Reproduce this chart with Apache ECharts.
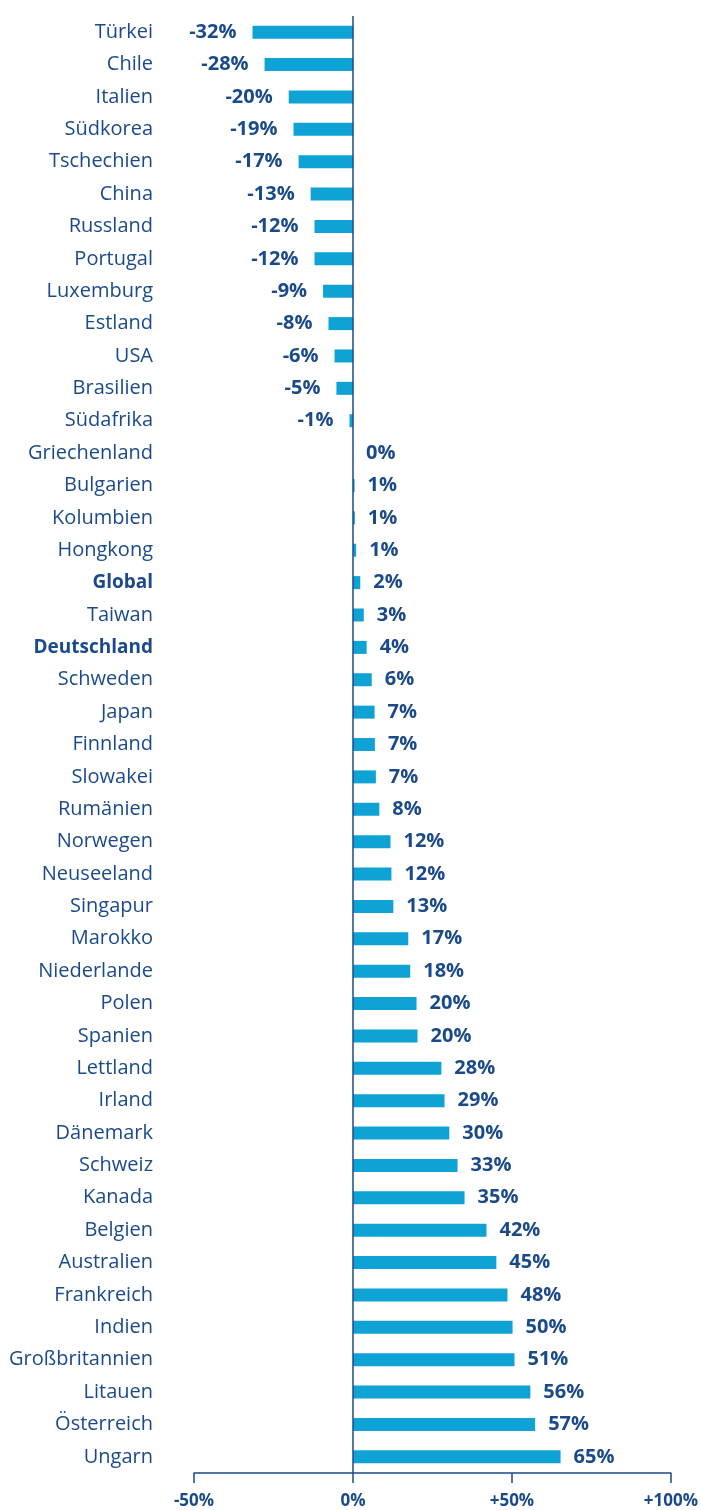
<!DOCTYPE html>
<html>
<head>
<meta charset="utf-8">
<script src="https://cdn.jsdelivr.net/npm/echarts@6/dist/echarts.min.js"></script>
<style>
  html, body { margin: 0; padding: 0; background: #fff; }
  #chart { width: 701px; height: 1510px; }
</style>
</head>
<body>
<div id="chart"></div>
<script>
// Länder (oben nach unten)
const countries = [
  'Türkei', 'Chile', 'Italien', 'Südkorea', 'Tschechien', 'China', 'Russland', 'Portugal',
  'Luxemburg', 'Estland', 'USA', 'Brasilien', 'Südafrika', 'Griechenland', 'Bulgarien',
  'Kolumbien', 'Hongkong', 'Global', 'Taiwan', 'Deutschland', 'Schweden', 'Japan', 'Finnland',
  'Slowakei', 'Rumänien', 'Norwegen', 'Neuseeland', 'Singapur', 'Marokko', 'Niederlande',
  'Polen', 'Spanien', 'Lettland', 'Irland', 'Dänemark', 'Schweiz', 'Kanada', 'Belgien',
  'Australien', 'Frankreich', 'Indien', 'Großbritannien', 'Litauen', 'Österreich', 'Ungarn'
];
// Veränderung in % (aus Balkenlänge geschätzt)
const values = [
  -31.6, -27.8, -20.2, -18.7, -17.1, -13.3, -12.1, -12.1,
  -9.4, -7.7, -5.8, -5.2, -1.1, 0, 0.5,
  0.6, 1.0, 2.3, 3.4, 4.3, 5.9, 6.8, 6.9,
  7.2, 8.3, 11.8, 12.1, 12.7, 17.4, 18.0,
  20.0, 20.3, 27.8, 28.8, 30.3, 32.9, 35.1, 42.0,
  45.1, 48.6, 50.2, 50.8, 55.8, 57.3, 65.3
];
// Beschriftungen an den Balken
const valueLabels = [
  '-32%', '-28%', '-20%', '-19%', '-17%', '-13%', '-12%', '-12%',
  '-9%', '-8%', '-6%', '-5%', '-1%', '0%', '1%',
  '1%', '1%', '2%', '3%', '4%', '6%', '7%', '7%',
  '7%', '8%', '12%', '12%', '13%', '17%', '18%',
  '20%', '20%', '28%', '29%', '30%', '33%', '35%', '42%',
  '45%', '48%', '50%', '51%', '56%', '57%', '65%'
];
const xTicks = { '-50': '-50%', '0': '0%', '50': '+50%', '100': '+100%' };
const boldCountries = ['Global', 'Deutschland'];

const navy = '#1b4a8a';
const barBlue = '#0ea3d4';
const font = '"Open Sans", Lato, sans-serif';

const chart = echarts.init(document.getElementById('chart'));

const option = {
  animation: false,
  textStyle: { fontFamily: font },
  grid: { left: 194, right: 30, top: 16, bottom: 32, containLabel: false },
  xAxis: {
    type: 'value',
    min: -50,
    max: 100,
    interval: 50,
    splitLine: { show: false },
    axisLine: { show: true, lineStyle: { color: navy, width: 1.5 } },
    axisTick: { show: true, length: 10, lineStyle: { color: navy, width: 1.5 } },
    axisLabel: {
      color: navy,
      fontSize: 17,
      fontWeight: 'bold',
      fontFamily: font,
      margin: 20,
      formatter: v => xTicks[String(v)] || ''
    }
  },
  yAxis: {
    type: 'category',
    inverse: true,
    data: countries,
    axisLine: { show: false },
    axisTick: { show: false },
    axisLabel: {
      margin: 41,
      color: navy,
      fontSize: 20,
      formatter: name => boldCountries.includes(name) ? '{b|' + name + '}' : '{n|' + name + '}',
      rich: {
        n: { color: navy, fontSize: 20, fontFamily: font },
        b: { color: navy, fontSize: 19, fontWeight: 'bold', fontFamily: font }
      }
    }
  },
  series: [
    {
      type: 'bar',
      data: values.map((v, i) => ({
        value: v,
        label: {
          position: v < 0 ? 'left' : 'right',
          distance: v < 0 ? 16 : 13,
          formatter: valueLabels[i]
        }
      })),
      barWidth: 13,
      itemStyle: { color: barBlue },
      label: {
        show: true,
        color: navy,
        fontSize: 20,
        fontWeight: 'bold',
        fontFamily: font
      },
      markLine: {
        silent: true,
        symbol: 'none',
        label: { show: false },
        lineStyle: { color: navy, width: 1.5, type: 'solid' },
        data: [{ xAxis: 0 }]
      }
    }
  ]
};

chart.setOption(option);
</script>
</body>
</html>
